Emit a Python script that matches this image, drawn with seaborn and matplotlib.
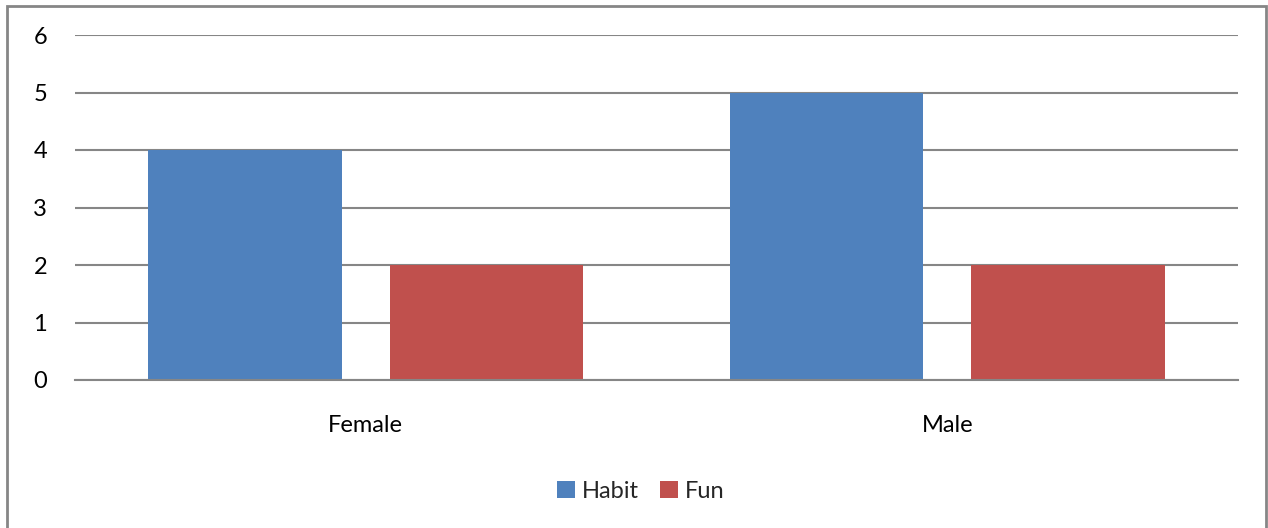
import matplotlib
matplotlib.use("Agg")
import matplotlib.pyplot as plt
import seaborn as sns
import pandas as pd
from matplotlib.patches import Rectangle

genders = ["Female", "Male"]
series = ["Habit", "Fun"]
habit = [4, 5]
fun = [2, 2]
yticks = [0, 1, 2, 3, 4, 5, 6]

df = pd.DataFrame({
    "gender": genders * 2,
    "series": ["Habit"] * len(genders) + ["Fun"] * len(genders),
    "value": habit + fun,
})

sns.set_theme(style="white")
plt.rcParams["font.family"] = ["Lato", "DejaVu Sans"]

W, H = 1268, 528
fig = plt.figure(figsize=(W / 100, H / 100), dpi=100)
ax = fig.add_axes([75 / W, 1 - 380 / H, (1238 - 75) / W, (380 - 35) / H])

palette = {"Habit": "#4F81BD", "Fun": "#C0504D"}
sns.barplot(data=df, x="gender", y="value", hue="series", hue_order=series,
            order=genders, palette=palette, width=0.832, gap=0.2,
            saturation=1, ax=ax, linewidth=0, zorder=3)

ax.set_xlim(-0.5, 1.5)
ax.set_ylim(0, 6)
ax.set_yticks(yticks)
ax.set_yticklabels([str(v) for v in yticks])
ax.yaxis.grid(True, color="#868686", linewidth=1.5)
ax.set_axisbelow(True)
for side in ["left", "right", "top"]:
    ax.spines[side].set_visible(False)
ax.spines["bottom"].set_color("#868686")
ax.spines["bottom"].set_linewidth(1.5)
ax.spines["bottom"].set_zorder(4)
ax.tick_params(axis="y", length=0, pad=20, labelsize=17, labelcolor="black")
ax.tick_params(axis="x", length=0, pad=25, labelsize=17, labelcolor="black")
ax.set_xlabel("")
ax.set_ylabel("")

ax.legend(loc="center", bbox_to_anchor=(641 / W, 1 - 491 / H),
          bbox_transform=fig.transFigure, ncol=2, frameon=False, fontsize=17,
          handlelength=0.75, handleheight=0.75, handletextpad=0.3, columnspacing=0.9)

fig.patches.append(Rectangle((7 / W, -0.05), (1266 - 7) / W, 1 - 6 / H + 0.05,
                             transform=fig.transFigure, fill=False,
                             edgecolor="#868686", linewidth=2))

fig.savefig("out.png", dpi=100)
